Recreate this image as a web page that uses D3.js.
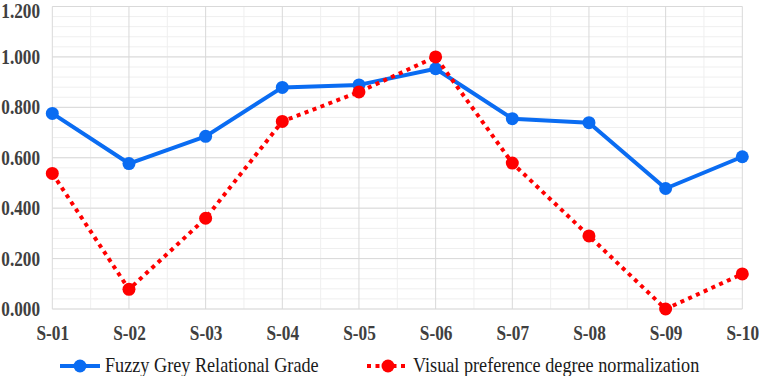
<!DOCTYPE html>
<html><head><meta charset="utf-8">
<script src="https://cdn.jsdelivr.net/npm/d3@7"></script>
<style>body{margin:0;background:#fff}svg{display:block}
text{font-family:"Liberation Serif","Times New Roman","DejaVu Serif",serif}
.ax text{font-weight:bold;font-size:20px;fill:#404040}
.lg text{font-size:20px;fill:#1a1a1a}
</style>
</head><body>
<script>
const categories = ["S-01","S-02","S-03","S-04","S-05","S-06","S-07","S-08","S-09","S-10"];
const fuzzyGrey = [0.776,0.577,0.685,0.879,0.889,0.953,0.755,0.739,0.478,0.604];
const visualPref = [0.538,0.078,0.360,0.744,0.861,1.000,0.579,0.290,0.000,0.139];
const yTicks = [0,0.2,0.4,0.6,0.8,1.0,1.2];
const seriesNames = ["Fuzzy Grey Relational Grade","Visual preference degree normalization"];

const W=759,H=376;
const svg=d3.select("body").append("svg").attr("width",W).attr("height",H);
const pL=52.3,pR=742.3,pT=6.5,pB=309;
const x=d3.scalePoint().domain(categories).range([pL,pR]);
const y=d3.scaleLinear().domain([0,1.2]).range([pB,pT]);

const minor=d3.range(0,1.2001,0.04);
svg.append("g").selectAll("line").data(minor).join("line")
  .attr("x1",pL).attr("x2",pR).attr("y1",d=>y(d)).attr("y2",d=>y(d))
  .attr("stroke","#efefef").attr("stroke-width",1);
const step=x.step();
svg.append("g").selectAll("line").data(categories.slice(0,-1)).join("line")
  .attr("x1",d=>x(d)+step/2).attr("x2",d=>x(d)+step/2).attr("y1",pT).attr("y2",pB)
  .attr("stroke","#efefef").attr("stroke-width",1);
svg.append("g").selectAll("line").data(yTicks).join("line")
  .attr("x1",pL).attr("x2",pR).attr("y1",d=>y(d)).attr("y2",d=>y(d))
  .attr("stroke","#d9d9d9").attr("stroke-width",1);
svg.append("g").selectAll("line").data(categories).join("line")
  .attr("x1",d=>x(d)).attr("x2",d=>x(d)).attr("y1",pT).attr("y2",pB)
  .attr("stroke","#d9d9d9").attr("stroke-width",1);

const yAxis=d3.axisLeft(y).tickValues(yTicks).tickFormat(d3.format(".3f")).tickSize(0).tickPadding(0);
const ga=svg.append("g").attr("class","ax").attr("transform",`translate(${pL},0)`).call(yAxis);
ga.select(".domain").remove();
ga.attr("font-family",null).attr("font-size",null);
ga.selectAll("text").attr("x",0).attr("transform","translate(-12.3,0) scale(0.86,1)");
ga.selectAll(".tick").filter(d=>d===1.2).select("text").attr("dy","0.57em");

const xAxis=d3.axisBottom(x).tickSize(0).tickPadding(17);
const gx=svg.append("g").attr("class","ax").attr("transform",`translate(0,${pB})`).call(xAxis);
gx.select(".domain").remove();
gx.attr("font-family",null).attr("font-size",null);
gx.selectAll("text").attr("transform","scale(0.865,1)");

const blue="#0a6cf2", red="#ff0000";
const line=d3.line().x((d,i)=>x(categories[i])).y(d=>y(d));
svg.append("path").datum(fuzzyGrey).attr("d",line).attr("fill","none")
  .attr("stroke",blue).attr("stroke-width",4).attr("stroke-linejoin","round");
svg.append("g").selectAll("circle").data(fuzzyGrey).join("circle")
  .attr("cx",(d,i)=>x(categories[i])).attr("cy",d=>y(d)).attr("r",6.5).attr("fill",blue);
svg.append("path").datum(visualPref).attr("d",line).attr("fill","none")
  .attr("stroke",red).attr("stroke-width",4).attr("stroke-dasharray","4,4.5");
svg.append("g").selectAll("circle").data(visualPref).join("circle")
  .attr("cx",(d,i)=>x(categories[i])).attr("cy",d=>y(d)).attr("r",6.5).attr("fill",red);

const ly=366;
const lg=svg.append("g").attr("class","lg");
lg.append("line").attr("x1",60).attr("x2",100).attr("y1",ly).attr("y2",ly).attr("stroke",blue).attr("stroke-width",4);
lg.append("circle").attr("cx",80).attr("cy",ly).attr("r",6.5).attr("fill",blue);
lg.append("text").attr("transform",`translate(105,${ly+5.5}) scale(0.91,1)`).text(seriesNames[0]);
lg.append("line").attr("x1",367).attr("x2",409).attr("y1",ly).attr("y2",ly).attr("stroke",red).attr("stroke-width",4).attr("stroke-dasharray","4,4.5");
lg.append("circle").attr("cx",388).attr("cy",ly).attr("r",6.5).attr("fill",red);
lg.append("text").attr("transform",`translate(413,${ly+5.5}) scale(0.91,1)`).text(seriesNames[1]);
</script>
</body></html>
